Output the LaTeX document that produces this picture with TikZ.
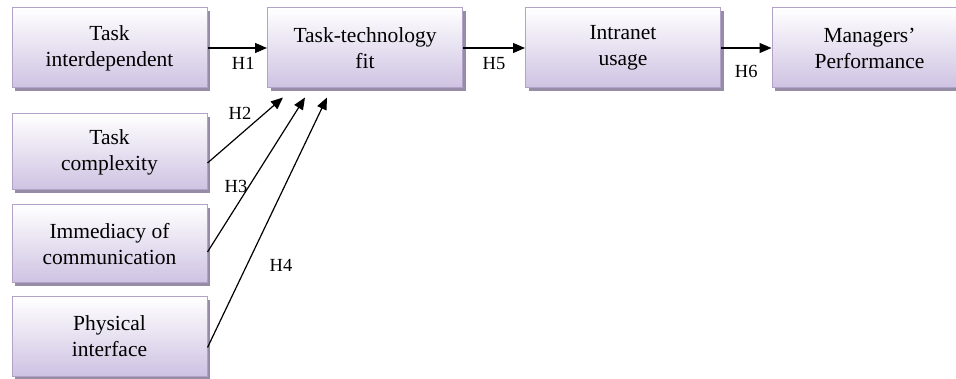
\documentclass[tikz,border=0pt]{standalone}
\usepackage{fontspec}
\setmainfont{Liberation Serif}
\usetikzlibrary{arrows.meta,shadows}
\definecolor{boxborder}{RGB}{178,162,199}
\definecolor{boxbottom}{RGB}{206,194,226}
\definecolor{boxshadow}{RGB}{150,140,165}

\begin{document}
\begin{tikzpicture}[x=1pt,y=-1pt,
    factor/.style={draw=boxborder, line width=1pt, top color=white, bottom color=boxbottom,
      minimum width=195pt, minimum height=80pt, align=center, font=\fontsize{21.5}{26}\selectfont,
      drop shadow={shadow xshift=3pt, shadow yshift=-3pt, fill=boxshadow, opacity=1}},
    hyp/.style={-{Triangle[length=12pt,width=10pt]}, line width=1.2pt},
    hlabel/.style={font=\fontsize{18.5}{20}\selectfont}]

    \path[use as bounding box, clip] (0,0) rectangle (956,379);

    \node[factor] (interdep) at (109.5,48) {Task\\interdependent};
    \node[factor] (ttf) at (365,48) {Task-technology\\fit};
    \node[factor] (usage) at (623,48) {Intranet\\usage};
    \node[factor] (perf) at (869.5,48) {Managers’\\Performance};

    \node[factor, minimum height=76pt] (complex) at (109.5,152) {Task\\complexity};
    \node[factor, minimum height=78pt] (immed) at (109.5,244) {Immediacy of\\communication};
    \node[factor, minimum height=79pt] (phys) at (109.5,336.5) {Physical\\interface};

    % main chain
    \draw[hyp] (interdep) -- (ttf) node[hlabel, pos=0.6, below=5pt] (h1) {H1};
    \draw[hyp] (ttf) -- (usage) node[hlabel, midway, below=5pt] (h5) {H5};
    \draw[hyp] (usage) -- (perf) node[hlabel, midway, below=13pt] (h6) {H6};

    % antecedents of fit
    \draw[hyp] ([yshift=-11pt]complex.east) -- ([xshift=16pt,yshift=-9pt]ttf.south west);
    \draw[hyp] ([yshift=-8pt]immed.east) -- ([xshift=38pt,yshift=-9pt]ttf.south west);
    \draw[hyp] ([yshift=-11pt]phys.east) -- ([xshift=60pt,yshift=-9pt]ttf.south west);

    \node[hlabel] (h2) at (240,113) {H2};
    \node[hlabel] (h3) at (236,186) {H3};
    \node[hlabel] (h4) at (281,265) {H4};

\end{tikzpicture}
\end{document}
